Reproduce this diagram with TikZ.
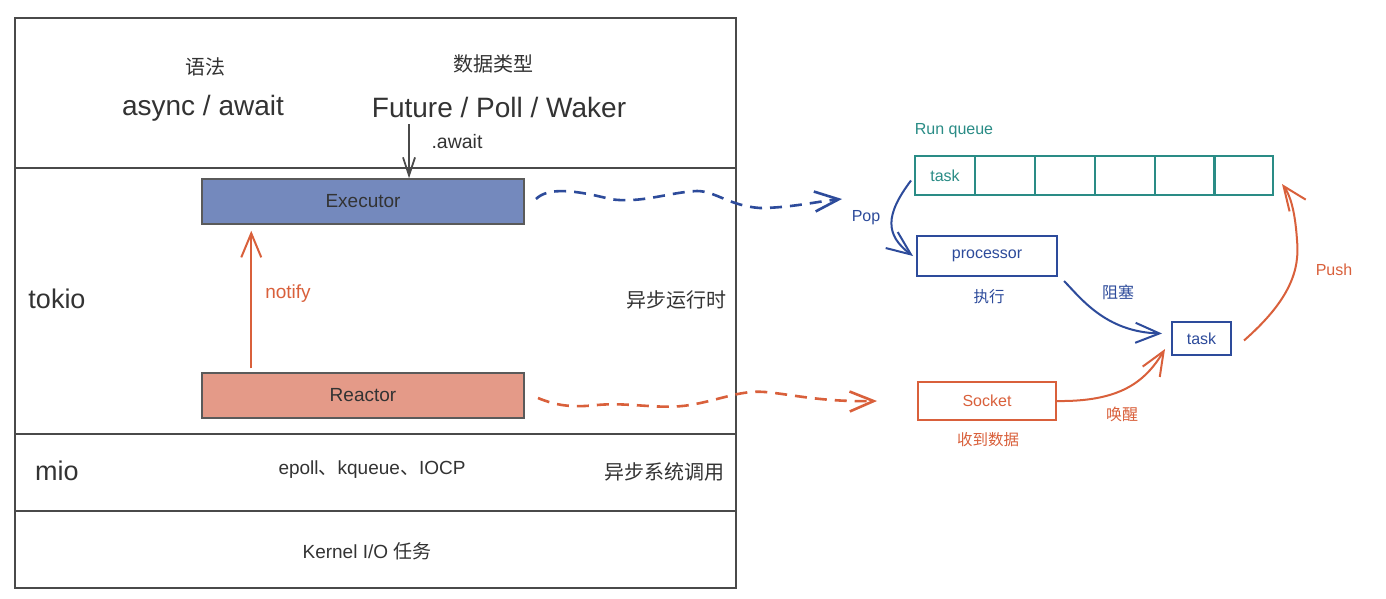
\documentclass[tikz,border=0pt]{standalone}
\usepackage{fontspec}
\setmainfont{Liberation Sans}
\newfontfamily\cjk{Noto Sans CJK SC}
\usetikzlibrary{arrows.meta,calc}
\newcommand\myfs[1]{\fontsize{#1}{#1}\selectfont}
\definecolor{lay}{HTML}{4A4A4A}
\definecolor{txt}{HTML}{333333}
\definecolor{exfill}{HTML}{7489BD}
\definecolor{refill}{HTML}{E49A88}
\definecolor{bxline}{HTML}{5A5A5A}
\definecolor{org}{HTML}{D9603B}
\definecolor{blu}{HTML}{2D4B9B}
\definecolor{tea}{HTML}{2A8C86}
\tikzset{
  layerbox/.style={draw=lay, line width=2pt, anchor=north west, inner sep=0pt},
  lbl/.style={text=txt, inner sep=0pt},
  compbox/.style={draw=bxline, line width=1.5pt, minimum width=322pt, minimum height=45pt, inner sep=0pt, text=txt, font=\myfs{19}},
  cellbox/.style={draw=tea, line width=2pt, minimum width=60pt, minimum height=39pt, inner sep=0pt, text=tea, font=\myfs{16}},
  barb/.style={-{Straight Barb[length=24pt,width=20pt]}, line width=2pt},
  wave/.style={barb, line width=2.6pt, dash pattern=on 12pt off 8pt},
}
\begin{document}
\begin{tikzpicture}[x=1pt,y=-1pt]
\useasboundingbox[fill=white] (0,0) rectangle (1386,598);
% layers
\node[layerbox, minimum width=721pt, minimum height=150pt] (lang) at (14,17) {};
\node[layerbox, minimum width=721pt, minimum height=266pt] (tokiol) at (14,167) {};
\node[layerbox, minimum width=721pt, minimum height=77pt] (miol) at (14,433) {};
\node[layerbox, minimum width=721pt, minimum height=77pt] (kern) at (14,510) {};
% top layer texts
\node[lbl, font=\myfs{20}\cjk] (yufa) at (205,67) {语法};
\node[lbl, font=\myfs{28}] (async) at (203,108) {async / await};
\node[lbl, font=\myfs{20}\cjk] (shuju) at (493,64) {数据类型};
\node[lbl, font=\myfs{28}] (future) at (499,107) {Future / Poll / Waker};
\node[lbl, font=\myfs{19.5}] (awaitl) at (457,142) {.await};
% tokio layer
\node[lbl, font=\myfs{27}] (tokio) at (57,299) {tokio};
\node[lbl, font=\myfs{20}\cjk] (rt) at (676,300) {异步运行时};
\node[compbox, fill=exfill] (exec) at (363,201.5) {Executor};
\node[compbox, fill=refill] (reactor) at (363,395.5) {Reactor};
\node[lbl, text=org, font=\myfs{19}] (notify) at (288,294) {notify};
% mio layer
\node[lbl, font=\myfs{27}] (mio) at (57,471) {mio};
\node[lbl, font=\myfs{19}] (epoll) at (372,470) {epoll{\cjk 、}kqueue{\cjk 、}IOCP};
\node[lbl, font=\myfs{20}\cjk] (sys) at (664,472) {异步系统调用};
% kernel
\node[lbl, font=\myfs{19}] (kio) at (367,551) {Kernel I/O {\cjk 任务}};
% arrows left
\coordinate (awtop) at (409,124);
\draw[-{Straight Barb[length=18pt,width=12pt]}, line width=1.8pt, draw=lay] (awtop) -- (awtop |- exec.north);
\draw[barb, draw=org] ([xshift=50pt,yshift=4pt]reactor.north west) -- ([xshift=50pt,yshift=-6pt]exec.south west);
% waves
\coordinate (bw0) at (536,199);
\coordinate (bw1) at (842,199);
\draw[wave, draw=blu] (bw0) .. controls (548,187) and (575,190) .. (610,199)
  .. controls (640,204) and (670,192) .. (697,191)
  .. controls (715,191) and (730,206) .. (760,208)
  .. controls (790,208) and (820,201) .. (bw1);
\coordinate (ow0) at (538,398);
\coordinate (ow1) at (877,401);
\draw[wave, draw=org] (ow0) .. controls (555,405) and (570,408) .. (597,405)
  .. controls (630,402) and (660,410) .. (690,405)
  .. controls (720,400) and (740,390) .. (765,392)
  .. controls (790,394) and (820,402) .. (ow1);
% right side
\node[lbl, text=tea, font=\myfs{16}] (rq) at (954,131) {Run queue};
\node[cellbox] (q1) at (945,175.5) {task};
\node[cellbox] (q2) at (1005,175.5) {};
\node[cellbox] (q3) at (1065,175.5) {};
\node[cellbox] (q4) at (1125,175.5) {};
\node[cellbox] (q5) at (1185,175.5) {};
\node[cellbox, minimum width=59pt] (q6) at (1243.5,175.5) {};
\node[draw=blu, line width=2pt, minimum width=140pt, minimum height=40pt, inner sep=0pt, text=blu, font=\myfs{16}] (proc) at (987,256) {processor};
\node[lbl, text=blu, font=\myfs{15.5}\cjk] (zx) at (989,297) {执行};
\node[draw=org, line width=2pt, minimum width=138pt, minimum height=38pt, inner sep=0pt, text=org, font=\myfs{16}] (sock) at (987,401) {Socket};
\node[lbl, text=org, font=\myfs{15.5}\cjk] (sd) at (988,440) {收到数据};
\node[draw=blu, line width=2pt, minimum width=59pt, minimum height=33pt, inner sep=0pt, text=blu, font=\myfs{16}] (t2) at (1201.5,338.5) {task};
\node[lbl, text=blu, font=\myfs{16}] (pop) at (866,218) {Pop};
\node[lbl, text=blu, font=\myfs{16}\cjk] (zs) at (1118,292) {阻塞};
\node[lbl, text=org, font=\myfs{16}\cjk] (hx) at (1122,414) {唤醒};
\node[lbl, text=org, font=\myfs{16}] (push) at (1334,270) {Push};
% right arrows
\draw[barb, draw=blu] ([xshift=-3pt,yshift=-5pt]q1.west) .. controls (885,215) and (885,235) .. ([xshift=-3pt]proc.west);
\draw[barb, draw=blu] ([xshift=6pt,yshift=-4pt]proc.south east) .. controls (1080,297) and (1105,332) .. ([xshift=-9pt,yshift=5pt]t2.west);
\draw[barb, draw=org] ([xshift=-1pt]sock.east) .. controls (1120,402) and (1145,382) .. ([xshift=-6pt,yshift=7pt]t2.south west);
\draw[barb, draw=org] ([xshift=12pt,yshift=-2pt]t2.east) .. controls (1290,300) and (1300,270) .. (1297,240)
  .. controls (1295,210) and (1290,195) .. ([xshift=8pt,yshift=12pt]q6.south east);
\end{tikzpicture}
\end{document}
